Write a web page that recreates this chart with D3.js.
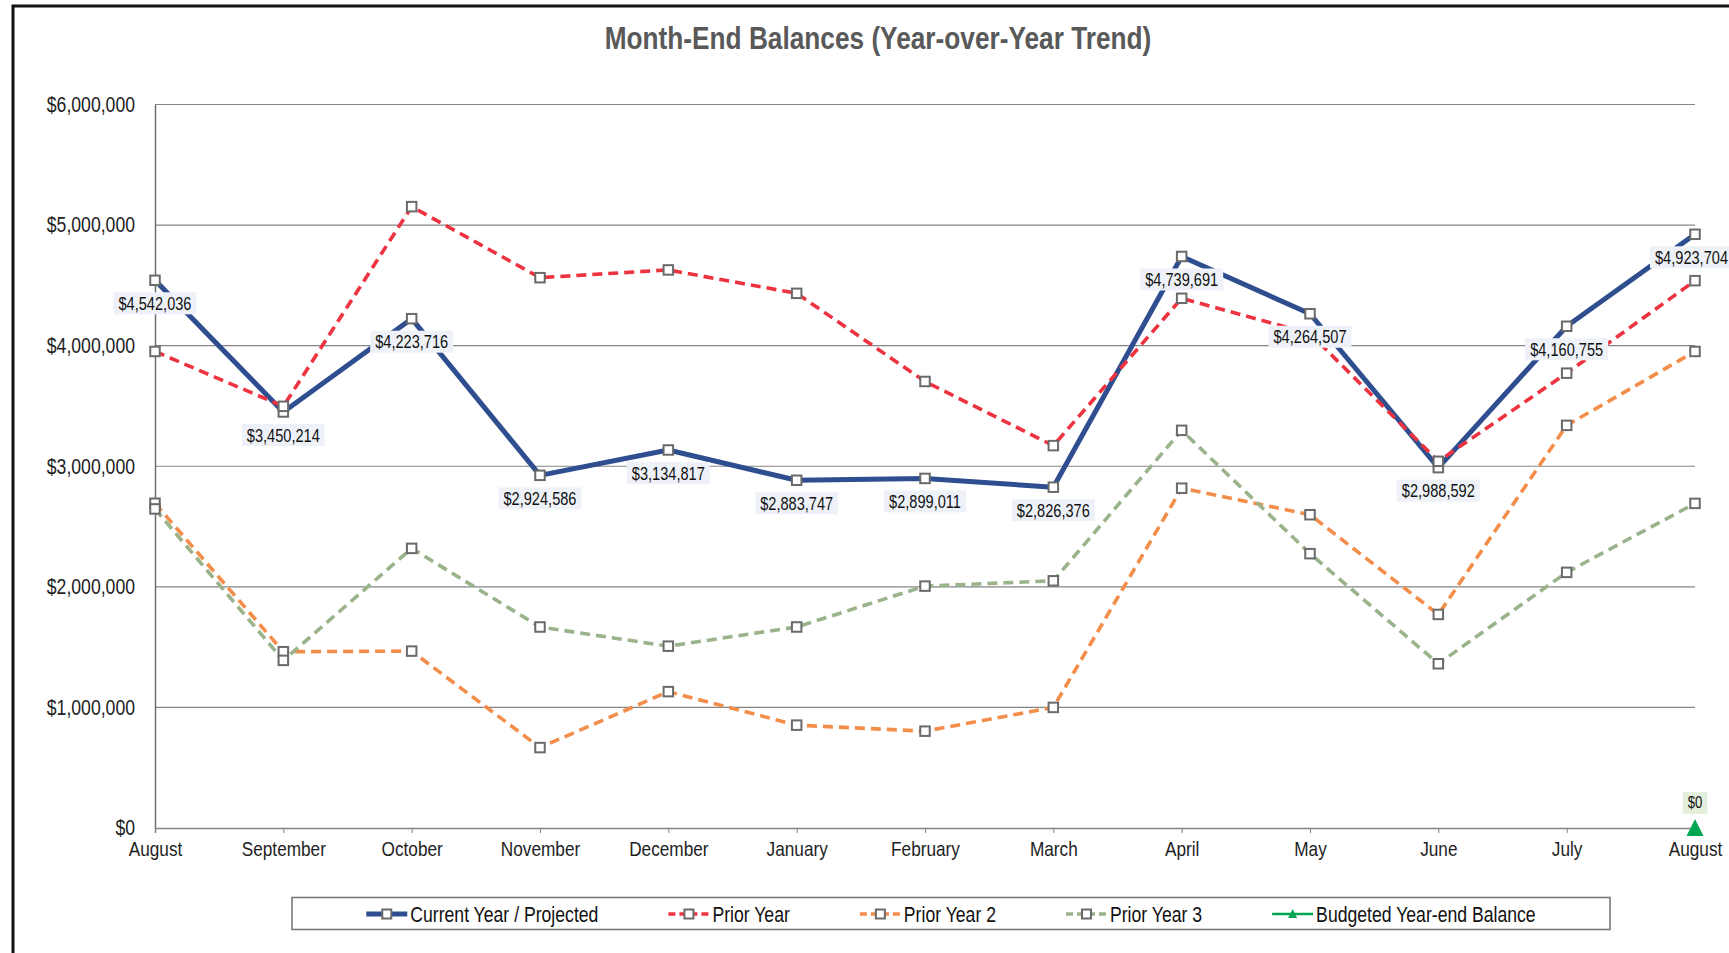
<!DOCTYPE html>
<html>
<head>
<meta charset="utf-8">
<script src="https://cdn.jsdelivr.net/npm/d3@7"></script>
<style>
  html, body { margin: 0; padding: 0; background: #ffffff; overflow: hidden; }
  svg { display: block; font-family: "Liberation Sans", Arial, sans-serif; }
</style>
</head>
<body>
<svg id="chart" width="1729" height="953"></svg>
<script>
// Month-end balances, fiscal year August -> August
const months = ["August", "September", "October", "November", "December", "January",
                "February", "March", "April", "May", "June", "July", "August"];

const currentYear = [4542036, 3450214, 4223716, 2924586, 3134817, 2883747,
                     2899011, 2826376, 4739691, 4264507, 2988592, 4160755, 4923704];
const priorYear   = [3952000, 3497000, 5153000, 4564000, 4628000, 4434000,
                     3703000, 3171000, 4393000, 4100000, 3041000, 3772000, 4539000];
const priorYear2  = [2693000, 1462000, 1467000, 667000, 1131000, 853000,
                     803000, 1000000, 2818000, 2598000, 1771000, 3339000, 3952000];
const priorYear3  = [2646000, 1390000, 2319000, 1667000, 1508000, 1667000,
                     2006000, 2050000, 3298000, 2275000, 1362000, 2120000, 2692000];
const budgetYearEnd = [null, null, null, null, null, null,
                       null, null, null, null, null, null, 0];

const yTicks = [0, 1000000, 2000000, 3000000, 4000000, 5000000, 6000000];

const seriesNames = ["Current Year / Projected", "Prior Year", "Prior Year 2", "Prior Year 3",
                     "Budgeted Year-end Balance"];

const titleText = "Month-End Balances (Year-over-Year Trend)";

// ---- styling ----
const styles = [
  { values: currentYear, color: "#2E4E8F", width: 5,   dash: null },
  { values: priorYear,   color: "#EE3340", width: 3.6, dash: "10,6" },
  { values: priorYear2,  color: "#F38D4A", width: 3.6, dash: "10,6" },
  { values: priorYear3,  color: "#9AB38A", width: 3.6, dash: "10,6" }
];
const budgetColor = "#00A651";
const markerStroke = "#6A6A6A";
const W = 1729;

// condensed look: horizontally squeeze text drawn in Liberation Sans
const NARROW = 0.82;
function narrow(sel) {
  sel.each(function () {
    const t = d3.select(this);
    const x0 = +t.attr("x") || 0;
    t.attr("x", x0 / NARROW).attr("transform", `scale(${NARROW},1)`);
  });
  return sel;
}

const svg = d3.select("#chart");
const plot = { left: 155, right: 1695, top: 104.5, bottom: 828 };

// outer chart frame (runs past the right and bottom edges of the view)
svg.append("rect")
  .attr("x", 13).attr("y", 6)
  .attr("width", 1760).attr("height", 1000)
  .attr("fill", "#ffffff")
  .attr("stroke", "#111111").attr("stroke-width", 3);

// title
narrow(svg.append("text")
  .attr("x", 878).attr("y", 38)
  .attr("text-anchor", "middle").attr("dominant-baseline", "central")
  .attr("font-size", 32).attr("font-weight", "bold")
  .attr("fill", "#595959")
  .text(titleText));

const x = d3.scalePoint().domain(d3.range(months.length)).range([plot.left, plot.right]);
const y = d3.scaleLinear().domain([0, 6000000]).range([plot.bottom, plot.top]);
const fmt = d3.format("$,");

// horizontal gridlines
svg.append("g").selectAll("line").data(yTicks.filter(d => d > 0)).join("line")
  .attr("x1", plot.left).attr("x2", plot.right)
  .attr("y1", d => y(d)).attr("y2", d => y(d))
  .attr("stroke", "#858585").attr("stroke-width", 1.2);

// y axis
const yAxis = svg.append("g")
  .attr("transform", `translate(${plot.left},0)`)
  .call(d3.axisLeft(y).tickValues(yTicks).tickFormat(fmt).tickSize(0).tickPadding(20));
yAxis.select(".domain").attr("stroke", "#6E6E6E").attr("stroke-width", 1.5);
narrow(yAxis.selectAll("text").attr("font-size", 21.5).attr("fill", "#1E1E1E")
  .attr("font-family", "\"Liberation Sans\", Arial, sans-serif"));

// x axis
const xAxis = svg.append("g")
  .attr("transform", `translate(0,${plot.bottom})`)
  .call(d3.axisBottom(x).tickFormat(i => months[i]).tickSize(5).tickPadding(8));
xAxis.select(".domain").attr("stroke", "#858585").attr("stroke-width", 1.5);
xAxis.selectAll(".tick line").attr("stroke", "#858585");
narrow(xAxis.selectAll("text").attr("font-size", 21).attr("fill", "#1E1E1E")
  .attr("font-family", "\"Liberation Sans\", Arial, sans-serif"));

const line = d3.line().defined(d => d != null).x((d, i) => x(i)).y(d => y(d));

// series lines + square markers
const markerSize = 9.5;
styles.forEach(s => {
  const g = svg.append("g");
  g.append("path")
    .datum(s.values)
    .attr("d", line)
    .attr("fill", "none")
    .attr("stroke", s.color)
    .attr("stroke-width", s.width)
    .attr("stroke-linejoin", "round")
    .attr("stroke-dasharray", s.dash);
  g.selectAll("rect").data(s.values).join("rect")
    .attr("x", (d, i) => x(i) - markerSize / 2)
    .attr("y", d => y(d) - markerSize / 2)
    .attr("width", markerSize).attr("height", markerSize)
    .attr("fill", "#ffffff")
    .attr("stroke", markerStroke).attr("stroke-width", 2);
});

// budgeted year-end balance marker (triangle)
const budgetPts = budgetYearEnd.map((v, i) => ({ v, i })).filter(d => d.v != null);
svg.append("g").selectAll("path").data(budgetPts).join("path")
  .attr("d", "M0,-9L8.5,8L-8.5,8Z")
  .attr("transform", d => `translate(${x(d.i)},${y(d.v)})`)
  .attr("fill", budgetColor);

// data labels
function drawLabel(cx, cy, text, bg, size) {
  const g = svg.append("g");
  const t = g.append("text")
    .attr("y", cy)
    .attr("text-anchor", "middle").attr("dominant-baseline", "central")
    .attr("font-size", size).attr("fill", "#111111")
    .text(text);
  const w = t.node().getComputedTextLength() * NARROW;
  const c = Math.min(cx, W - w / 2 - 1);
  t.attr("x", c);
  narrow(t);
  g.insert("rect", "text")
    .attr("x", c - w / 2 - 5).attr("y", cy - 11)
    .attr("width", w + 10).attr("height", 22)
    .attr("fill", bg);
}
currentYear.forEach((v, i) => drawLabel(x(i), y(v) + 23, fmt(v), "#EEF2F8", 17.8));
budgetPts.forEach(d => drawLabel(x(d.i), y(d.v) - 25, fmt(d.v), "#E3EEDB", 16));

// legend
const legend = svg.append("g");
legend.append("rect")
  .attr("x", 292).attr("y", 897.5)
  .attr("width", 1318).attr("height", 32)
  .attr("fill", "#ffffff").attr("stroke", "#7A7A7A").attr("stroke-width", 1.6);

const legendItems = seriesNames.map((name, k) => ({
  name,
  color: k < 4 ? styles[k].color : budgetColor,
  width: k < 4 ? styles[k].width : 2.5,
  dash: k < 4 ? styles[k].dash : null,
  budget: k === 4
}));
const sampleW = 41, sampleGap = 3, itemGap = 70, legendY = 914;
const items = legendItems.map(d => {
  const g = legend.append("g");
  const t = g.append("text")
    .attr("y", legendY).attr("dominant-baseline", "central")
    .attr("font-size", 21.5).attr("fill", "#111111")
    .text(d.name);
  d.g = g; d.t = t; d.tw = t.node().getComputedTextLength() * NARROW;
  return d;
});
const totalW = d3.sum(items, d => sampleW + sampleGap + d.tw) + itemGap * (items.length - 1);
let cursor = 951 - totalW / 2;
items.forEach(d => {
  const x0 = cursor, x1 = cursor + sampleW, mid = (x0 + x1) / 2;
  d.g.insert("line", "text")
    .attr("x1", x0).attr("x2", x1).attr("y1", legendY).attr("y2", legendY)
    .attr("stroke", d.color).attr("stroke-width", d.width)
    .attr("stroke-dasharray", d.dash ? "7,4" : null);
  if (d.budget) {
    d.g.append("path")
      .attr("d", "M0,-5L4.5,4L-4.5,4Z")
      .attr("transform", `translate(${mid},${legendY})`)
      .attr("fill", d.color);
  } else {
    d.g.append("rect")
      .attr("x", mid - 4.5).attr("y", legendY - 4.5)
      .attr("width", 9).attr("height", 9)
      .attr("fill", "#ffffff").attr("stroke", markerStroke).attr("stroke-width", 2);
  }
  d.t.attr("x", x1 + sampleGap);
  narrow(d.t);
  cursor = x1 + sampleGap + d.tw + itemGap;
});
</script>
</body>
</html>
